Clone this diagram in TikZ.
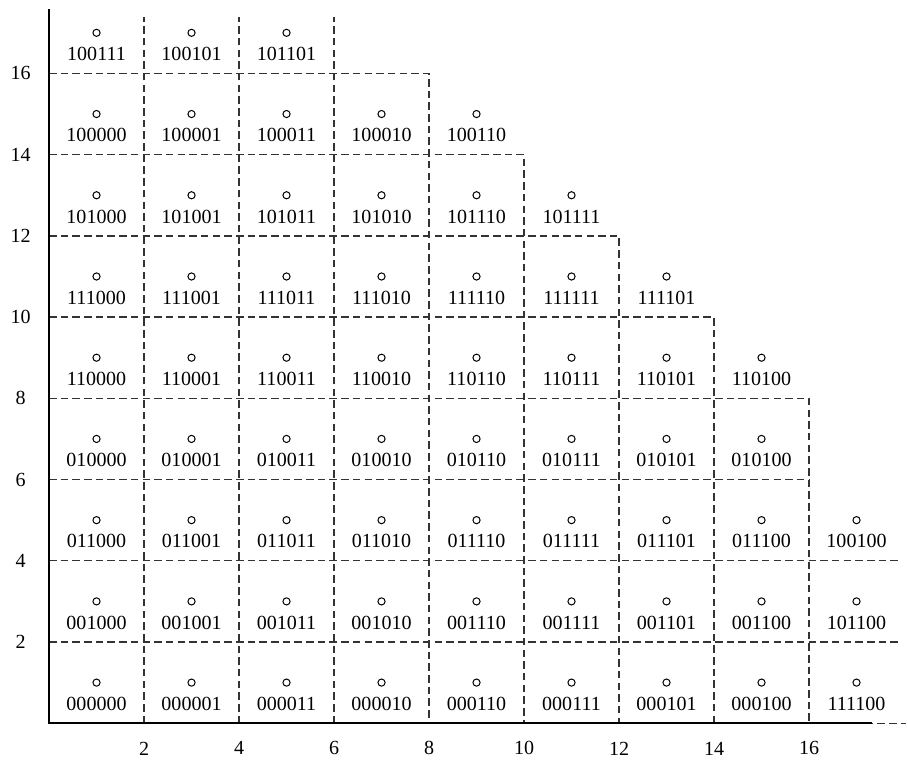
\documentclass[tikz,border=0pt]{standalone}
\usepackage{fontspec}
\setmainfont{Liberation Serif}
\usetikzlibrary{positioning}

\begin{document}
\begin{tikzpicture}[
    x=1cm, y=0.855cm,
    codept/.style={
        draw,
        circle,
        minimum size=4.3pt,
        inner sep=0pt,
        line width=0.6pt
    },
    codetext/.style={
        font=\fontsize{12}{14}\selectfont,
        inner sep=1pt
    },
    ticktext/.style={font=\fontsize{12}{14}\selectfont, inner sep=1pt},
    gridline/.style={dash pattern=on 4.5pt off 2.5pt, line width=0.8pt, black!80},
    axisline/.style={line width=0.9pt}
]

\useasboundingbox (-1.032,-0.911) rectangle (18.084,17.808);

\draw[gridline] (0,2) -- (17.87,2);
\draw[gridline] (0,4) -- (17.87,4);
\draw[gridline] (0,6) -- (16,6);
\draw[gridline] (0,8) -| (16,0);
\draw[gridline] (0,10) -| (14,0);
\draw[gridline] (0,12) -| (12,0);
\draw[gridline] (0,14) -| (10,0);
\draw[gridline] (0,16) -| (8,0);
\draw[gridline] (2,0) -- (2,17.4);
\draw[gridline] (4,0) -- (4,17.4);
\draw[gridline] (6,0) -- (6,17.4);
\draw[gridline] (16.7,0) -- (18.05,0);

\draw[axisline] (0,17.58) -- (0,0) -- (17.33,0);

\node[ticktext] (ytick2) at (-0.6,2) {2};
\node[ticktext] (ytick4) at (-0.6,4) {4};
\node[ticktext] (ytick6) at (-0.6,6) {6};
\node[ticktext] (ytick8) at (-0.6,8) {8};
\node[ticktext] (ytick10) at (-0.6,10) {10};
\node[ticktext] (ytick12) at (-0.6,12) {12};
\node[ticktext] (ytick14) at (-0.6,14) {14};
\node[ticktext] (ytick16) at (-0.6,16) {16};

\node[ticktext] (xtick2) at (2,-0.62) {2};
\node[ticktext] (xtick4) at (4,-0.62) {4};
\node[ticktext] (xtick6) at (6,-0.62) {6};
\node[ticktext] (xtick8) at (8,-0.62) {8};
\node[ticktext] (xtick10) at (10,-0.62) {10};
\node[ticktext] (xtick12) at (12,-0.62) {12};
\node[ticktext] (xtick14) at (14,-0.62) {14};
\node[ticktext] (xtick16) at (16,-0.62) {16};

\node[codept] (c100111) at (1,17) {}; \node[codetext, below=5pt of c100111] (l100111) {100111};
\node[codept] (c100101) at (3,17) {}; \node[codetext, below=5pt of c100101] (l100101) {100101};
\node[codept] (c101101) at (5,17) {}; \node[codetext, below=5pt of c101101] (l101101) {101101};

\node[codept] (c100000) at (1,15) {}; \node[codetext, below=5pt of c100000] (l100000) {100000};
\node[codept] (c100001) at (3,15) {}; \node[codetext, below=5pt of c100001] (l100001) {100001};
\node[codept] (c100011) at (5,15) {}; \node[codetext, below=5pt of c100011] (l100011) {100011};
\node[codept] (c100010) at (7,15) {}; \node[codetext, below=5pt of c100010] (l100010) {100010};
\node[codept] (c100110) at (9,15) {}; \node[codetext, below=5pt of c100110] (l100110) {100110};

\node[codept] (c101000) at (1,13) {}; \node[codetext, below=5pt of c101000] (l101000) {101000};
\node[codept] (c101001) at (3,13) {}; \node[codetext, below=5pt of c101001] (l101001) {101001};
\node[codept] (c101011) at (5,13) {}; \node[codetext, below=5pt of c101011] (l101011) {101011};
\node[codept] (c101010) at (7,13) {}; \node[codetext, below=5pt of c101010] (l101010) {101010};
\node[codept] (c101110) at (9,13) {}; \node[codetext, below=5pt of c101110] (l101110) {101110};
\node[codept] (c101111) at (11,13) {}; \node[codetext, below=5pt of c101111] (l101111) {101111};

\node[codept] (c111000) at (1,11) {}; \node[codetext, below=5pt of c111000] (l111000) {111000};
\node[codept] (c111001) at (3,11) {}; \node[codetext, below=5pt of c111001] (l111001) {111001};
\node[codept] (c111011) at (5,11) {}; \node[codetext, below=5pt of c111011] (l111011) {111011};
\node[codept] (c111010) at (7,11) {}; \node[codetext, below=5pt of c111010] (l111010) {111010};
\node[codept] (c111110) at (9,11) {}; \node[codetext, below=5pt of c111110] (l111110) {111110};
\node[codept] (c111111) at (11,11) {}; \node[codetext, below=5pt of c111111] (l111111) {111111};
\node[codept] (c111101) at (13,11) {}; \node[codetext, below=5pt of c111101] (l111101) {111101};

\node[codept] (c110000) at (1,9) {}; \node[codetext, below=5pt of c110000] (l110000) {110000};
\node[codept] (c110001) at (3,9) {}; \node[codetext, below=5pt of c110001] (l110001) {110001};
\node[codept] (c110011) at (5,9) {}; \node[codetext, below=5pt of c110011] (l110011) {110011};
\node[codept] (c110010) at (7,9) {}; \node[codetext, below=5pt of c110010] (l110010) {110010};
\node[codept] (c110110) at (9,9) {}; \node[codetext, below=5pt of c110110] (l110110) {110110};
\node[codept] (c110111) at (11,9) {}; \node[codetext, below=5pt of c110111] (l110111) {110111};
\node[codept] (c110101) at (13,9) {}; \node[codetext, below=5pt of c110101] (l110101) {110101};
\node[codept] (c110100) at (15,9) {}; \node[codetext, below=5pt of c110100] (l110100) {110100};

\node[codept] (c010000) at (1,7) {}; \node[codetext, below=5pt of c010000] (l010000) {010000};
\node[codept] (c010001) at (3,7) {}; \node[codetext, below=5pt of c010001] (l010001) {010001};
\node[codept] (c010011) at (5,7) {}; \node[codetext, below=5pt of c010011] (l010011) {010011};
\node[codept] (c010010) at (7,7) {}; \node[codetext, below=5pt of c010010] (l010010) {010010};
\node[codept] (c010110) at (9,7) {}; \node[codetext, below=5pt of c010110] (l010110) {010110};
\node[codept] (c010111) at (11,7) {}; \node[codetext, below=5pt of c010111] (l010111) {010111};
\node[codept] (c010101) at (13,7) {}; \node[codetext, below=5pt of c010101] (l010101) {010101};
\node[codept] (c010100) at (15,7) {}; \node[codetext, below=5pt of c010100] (l010100) {010100};

\node[codept] (c011000) at (1,5) {}; \node[codetext, below=5pt of c011000] (l011000) {011000};
\node[codept] (c011001) at (3,5) {}; \node[codetext, below=5pt of c011001] (l011001) {011001};
\node[codept] (c011011) at (5,5) {}; \node[codetext, below=5pt of c011011] (l011011) {011011};
\node[codept] (c011010) at (7,5) {}; \node[codetext, below=5pt of c011010] (l011010) {011010};
\node[codept] (c011110) at (9,5) {}; \node[codetext, below=5pt of c011110] (l011110) {011110};
\node[codept] (c011111) at (11,5) {}; \node[codetext, below=5pt of c011111] (l011111) {011111};
\node[codept] (c011101) at (13,5) {}; \node[codetext, below=5pt of c011101] (l011101) {011101};
\node[codept] (c011100) at (15,5) {}; \node[codetext, below=5pt of c011100] (l011100) {011100};
\node[codept] (c100100) at (17,5) {}; \node[codetext, below=5pt of c100100] (l100100) {100100};

\node[codept] (c001000) at (1,3) {}; \node[codetext, below=5pt of c001000] (l001000) {001000};
\node[codept] (c001001) at (3,3) {}; \node[codetext, below=5pt of c001001] (l001001) {001001};
\node[codept] (c001011) at (5,3) {}; \node[codetext, below=5pt of c001011] (l001011) {001011};
\node[codept] (c001010) at (7,3) {}; \node[codetext, below=5pt of c001010] (l001010) {001010};
\node[codept] (c001110) at (9,3) {}; \node[codetext, below=5pt of c001110] (l001110) {001110};
\node[codept] (c001111) at (11,3) {}; \node[codetext, below=5pt of c001111] (l001111) {001111};
\node[codept] (c001101) at (13,3) {}; \node[codetext, below=5pt of c001101] (l001101) {001101};
\node[codept] (c001100) at (15,3) {}; \node[codetext, below=5pt of c001100] (l001100) {001100};
\node[codept] (c101100) at (17,3) {}; \node[codetext, below=5pt of c101100] (l101100) {101100};

\node[codept] (c000000) at (1,1) {}; \node[codetext, below=5pt of c000000] (l000000) {000000};
\node[codept] (c000001) at (3,1) {}; \node[codetext, below=5pt of c000001] (l000001) {000001};
\node[codept] (c000011) at (5,1) {}; \node[codetext, below=5pt of c000011] (l000011) {000011};
\node[codept] (c000010) at (7,1) {}; \node[codetext, below=5pt of c000010] (l000010) {000010};
\node[codept] (c000110) at (9,1) {}; \node[codetext, below=5pt of c000110] (l000110) {000110};
\node[codept] (c000111) at (11,1) {}; \node[codetext, below=5pt of c000111] (l000111) {000111};
\node[codept] (c000101) at (13,1) {}; \node[codetext, below=5pt of c000101] (l000101) {000101};
\node[codept] (c000100) at (15,1) {}; \node[codetext, below=5pt of c000100] (l000100) {000100};
\node[codept] (c111100) at (17,1) {}; \node[codetext, below=5pt of c111100] (l111100) {111100};

\end{tikzpicture}
\end{document}
